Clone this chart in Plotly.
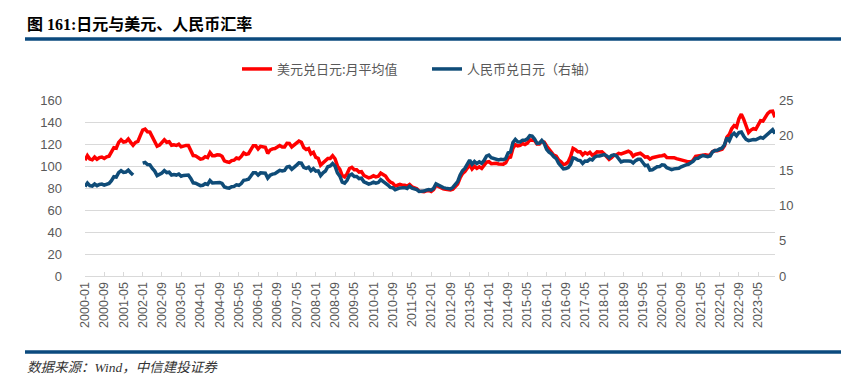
import plotly.graph_objects as go

# Monthly categories 2000-01 .. 2023-12
years = list(range(2000, 2024))
months = [f"{y}-{m:02d}" for y in years for m in range(1, 13)]

# 美元兑日元: 月平均值 (left axis)
usd_jpy = [
    105.3, 109.4, 106.3, 105.6, 108.1, 106.1, 107.6, 108.1, 106.8, 108.4, 108.9, 112.2,
    116.7, 116.2, 121.5, 123.8, 121.8, 122.2, 124.6, 121.5, 118.9, 121.4, 122.4, 127.6,
    132.7, 133.6, 131.1, 130.8, 126.4, 123.3, 118.0, 119.0, 121.1, 123.9, 121.6, 122.0,
    118.8, 119.3, 118.7, 119.9, 117.4, 118.3, 118.7, 118.7, 114.8, 109.5, 109.2, 107.7,
    106.3, 106.7, 108.5, 107.7, 112.2, 109.4, 109.4, 110.2, 110.0, 108.8, 104.7, 103.8,
    103.3, 104.9, 105.3, 107.3, 106.6, 108.7, 111.9, 110.6, 111.2, 114.9, 118.5, 118.5,
    115.5, 117.9, 117.3, 117.1, 111.5, 114.5, 115.6, 115.9, 117.2, 118.6, 117.3, 117.3,
    120.6, 120.5, 117.3, 118.8, 120.8, 122.6, 121.6, 116.7, 115.0, 115.9, 111.0, 112.4,
    107.8, 107.0, 100.8, 102.6, 104.2, 106.9, 106.9, 109.4, 106.6, 100.1, 96.9, 91.3,
    90.1, 92.9, 97.7, 98.8, 96.6, 96.6, 94.5, 94.9, 91.4, 90.3, 89.2, 89.9,
    91.1, 90.1, 90.7, 93.5, 91.8, 90.9, 87.5, 85.4, 84.4, 81.8, 82.5, 83.3,
    82.6, 82.6, 81.7, 83.2, 81.1, 80.4, 79.3, 77.1, 76.8, 76.7, 77.5, 77.8,
    76.9, 78.5, 82.5, 81.3, 79.7, 79.3, 78.9, 78.7, 78.2, 78.9, 80.9, 83.6,
    89.1, 93.1, 94.9, 97.7, 101.1, 97.3, 99.7, 97.8, 99.2, 97.8, 100.1, 103.5,
    103.9, 102.1, 102.3, 102.5, 101.8, 102.1, 101.7, 102.9, 107.4, 108.0, 116.2, 119.4,
    118.3, 118.8, 120.4, 119.5, 120.8, 123.7, 123.3, 123.2, 120.1, 120.1, 122.6, 121.6,
    118.2, 115.0, 113.0, 109.8, 108.9, 105.5, 103.9, 101.3, 101.9, 103.8, 108.6, 116.1,
    114.9, 113.0, 112.9, 110.1, 112.2, 110.9, 112.4, 109.9, 110.8, 112.9, 112.8, 112.9,
    110.9, 107.8, 106.0, 107.6, 109.7, 110.0, 111.5, 111.0, 112.0, 112.8, 113.4, 112.2,
    108.9, 110.5, 111.2, 111.6, 110.0, 108.1, 108.3, 106.2, 107.5, 108.2, 108.9, 109.1,
    109.3, 110.0, 107.8, 107.8, 107.2, 107.6, 106.7, 106.0, 105.6, 105.2, 104.4, 103.8,
    103.8, 105.4, 108.7, 109.1, 109.1, 110.1, 110.2, 109.8, 110.1, 113.1, 114.0, 113.8,
    114.8, 115.2, 118.5, 126.2, 128.8, 133.9, 136.7, 135.2, 143.1, 147.1, 142.4, 135.4,
    130.4, 132.7, 133.9, 133.4, 137.0, 141.2, 140.9, 144.8, 147.8, 149.6, 149.8, 144.3,
]

# 人民币兑日元 (right axis)
cny_jpy = [
    12.72, 13.21, 12.84, 12.76, 13.06, 12.82, 13.00, 13.06, 12.90, 13.09, 13.15, 13.55,
    14.10, 14.04, 14.68, 14.96, 14.71, 14.76, 15.05, 14.68, 14.36, None, None, None,
    16.03, 16.14, 15.84, 15.80, 15.27, 14.90, 14.26, 14.38, 14.63, 14.97, 14.69, 14.74,
    14.35, 14.41, 14.34, 14.49, 14.18, 14.29, 14.34, 14.34, 13.87, 13.23, 13.19, 13.01,
    12.84, 12.89, 13.11, 13.01, 13.56, 13.22, 13.22, 13.31, 13.29, 13.14, 12.65, 12.54,
    12.48, 12.67, 12.72, 12.96, 12.88, 13.13, 13.60, 13.65, 13.75, 14.20, 14.67, 14.68,
    14.33, 14.65, 14.59, 14.60, 13.90, 14.31, 14.47, 14.54, 14.78, 15.01, 14.92, 15.00,
    15.48, 15.55, 15.16, 15.39, 15.75, 16.07, 16.04, 15.42, 15.29, 15.45, 14.96, 15.25,
    14.89, 14.94, 14.26, 14.66, 14.91, 15.52, 15.63, 15.97, 15.61, 14.63, 14.19, 13.33,
    13.19, 13.60, 14.30, 14.47, 14.14, 14.14, 13.84, 13.89, 13.38, 13.22, 13.06, 13.16,
    13.34, 13.19, 13.28, 13.69, 13.44, 13.31, 12.91, 12.58, 12.54, 12.26, 12.41, 12.51,
    12.52, 12.55, 12.44, 12.74, 12.48, 12.43, 12.28, 12.01, 12.02, 12.06, 12.20, 12.27,
    12.19, 12.46, 13.10, 12.90, 12.63, 12.55, 12.48, 12.41, 12.37, 12.58, 12.99, 13.42,
    14.32, 14.94, 15.28, 15.81, 16.47, 15.87, 16.26, 15.98, 16.21, 16.01, 16.41, 17.02,
    17.17, 16.79, 16.66, 16.64, 16.50, 16.57, 16.51, 16.70, 17.49, 17.62, 18.96, 19.41,
    19.05, 19.04, 19.29, 19.27, 19.48, 19.92, 19.86, 19.46, 18.85, 18.88, 19.25, 18.85,
    17.99, 17.58, 17.36, 16.94, 16.68, 16.01, 15.58, 15.23, 15.28, 15.40, 15.85, 16.78,
    16.68, 16.45, 16.39, 15.98, 16.33, 16.31, 16.60, 16.48, 16.89, 17.05, 17.04, 17.13,
    17.25, 17.06, 16.77, 17.11, 17.22, 17.08, 16.62, 16.20, 16.33, 16.28, 16.34, 16.31,
    16.06, 16.39, 16.57, 16.58, 16.06, 15.67, 15.74, 15.04, 15.08, 15.28, 15.51, 15.54,
    15.79, 15.74, 15.38, 15.25, 15.10, 15.22, 15.24, 15.30, 15.51, 15.70, 15.79, 15.87,
    16.04, 16.32, 16.70, 16.71, 16.97, 17.12, 17.03, 16.94, 17.04, 17.62, 17.84, 17.86,
    18.05, 18.17, 18.66, 19.63, 19.22, 19.99, 20.28, 19.91, 20.38, 20.46, 19.86, 19.40,
    19.23, 19.37, 19.38, 19.36, 19.52, 19.69, 19.57, 19.92, 20.25, 20.47, 20.78, 20.21,
]

tick_labels = [
    "2000-01", "2000-09", "2001-05", "2002-01", "2002-09", "2003-05", "2004-01",
    "2004-09", "2005-05", "2006-01", "2006-09", "2007-05", "2008-01", "2008-09",
    "2009-05", "2010-01", "2010-09", "2011-05", "2012-01", "2012-09", "2013-05",
    "2014-01", "2014-09", "2015-05", "2016-01", "2016-09", "2017-05", "2018-01",
    "2018-09", "2019-05", "2020-01", "2020-09", "2021-05", "2022-01", "2022-09",
    "2023-05",
]
left_ticks = [0, 20, 40, 60, 80, 100, 120, 140, 160]
right_ticks = [0, 5, 10, 15, 20, 25]

title_text = "图 161:日元与美元、人民币汇率"
source_text = "数据来源：Wind，中信建投证券"
name_red = "美元兑日元:月平均值"
name_blue = "人民币兑日元（右轴）"

idx = list(range(len(months)))
tick_pos = [months.index(t) for t in tick_labels]

W, H = 852, 379
L, R, T, B = 77, 85, 92, 111
pw, ph = W - L - R, H - T - B

def px2x(px):
    return (px - L) / pw

def py2y(py):
    return (H - B - py) / ph

fig = go.Figure()
fig.add_trace(go.Scatter(x=idx, y=usd_jpy, mode="lines", name=name_red,
                         line=dict(color="#FF0000", width=3.5), yaxis="y"))
fig.add_trace(go.Scatter(x=idx, y=cny_jpy, mode="lines", name=name_blue,
                         line=dict(color="#0F4C78", width=3.5), yaxis="y2",
                         connectgaps=False))

grey = "#595959"
fig.update_layout(
    width=W, height=H,
    margin=dict(l=L, r=R, t=T, b=B, pad=0),
    paper_bgcolor="white", plot_bgcolor="white",
    font=dict(family="Noto Sans CJK SC, Noto Sans, sans-serif", color=grey, size=12),
    showlegend=True,
    legend=dict(orientation="h", x=px2x(229), xanchor="left", y=py2y(61), yanchor="middle",
                font=dict(size=13, color=grey), bgcolor="rgba(0,0,0,0)",
                entrywidth=145, entrywidthmode="pixels", itemwidth=30, tracegroupgap=0),
    xaxis=dict(range=[0, len(months) - 1], tickmode="array", tickvals=tick_pos,
               ticktext=tick_labels, tickangle=-90, showgrid=False,
               showline=True, linecolor="#D9D9D9", linewidth=1,
               ticks="inside", ticklen=4, tickcolor="#D9D9D9",
               tickfont=dict(family="Liberation Sans, Arial, sans-serif", size=12.5, color=grey),
               ticklabelstandoff=0,
               zeroline=False, fixedrange=True),
    yaxis=dict(range=[0, 160], tickvals=left_ticks, showgrid=True, gridcolor="#D9D9D9",
               gridwidth=1, zeroline=False, showline=False, ticks="",
               tickfont=dict(family="Liberation Sans, Arial, sans-serif", size=13, color=grey),
               ticklabelstandoff=22),
    yaxis2=dict(range=[0, 25], tickvals=right_ticks, overlaying="y", side="right",
                showgrid=False, zeroline=False, showline=False, ticks="",
                tickfont=dict(family="Liberation Sans, Arial, sans-serif", size=13, color=grey),
                ticklabelstandoff=3),
)

# Title
fig.add_annotation(x=px2x(17), y=py2y(16), xref="paper", yref="paper",
                   text="<b>" + title_text + "</b>", showarrow=False,
                   xanchor="left", yanchor="middle",
                   font=dict(family="Liberation Serif, Noto Sans CJK SC", size=16, color="#000000"))
# Source
fig.add_annotation(x=px2x(17), y=py2y(359), xref="paper", yref="paper",
                   text="<i>" + source_text + "</i>", showarrow=False,
                   xanchor="left", yanchor="middle",
                   font=dict(family="Liberation Serif, Noto Sans CJK SC", size=13.5, color="#333333"))
# Rules
for yy in (31, 344):
    fig.add_shape(type="line", xref="paper", yref="paper",
                  x0=px2x(17), x1=px2x(833), y0=py2y(yy), y1=py2y(yy),
                  line=dict(color="#0B4A7E", width=3.5))

fig.write_html("out.html")
